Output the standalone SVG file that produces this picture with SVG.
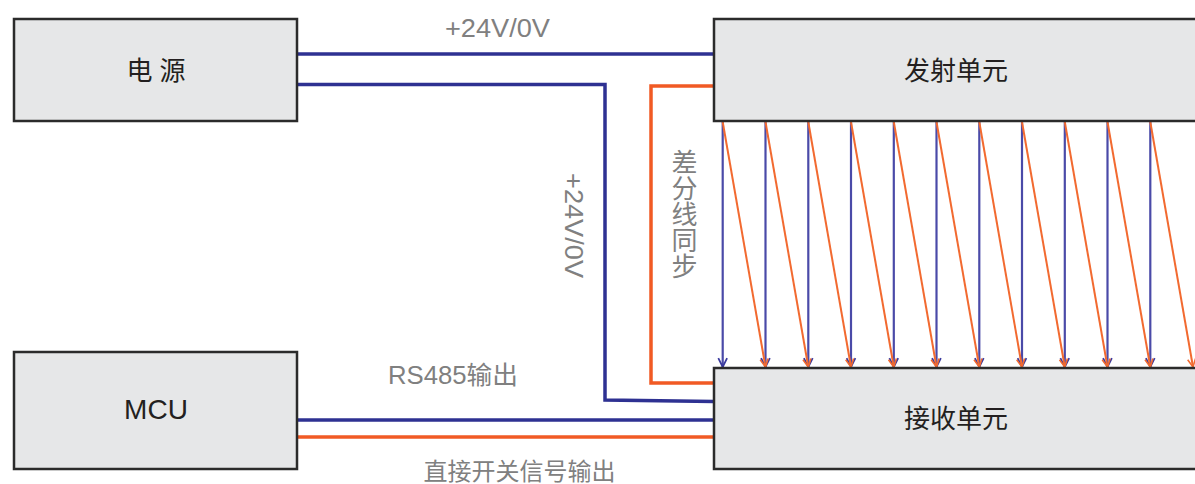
<svg xmlns="http://www.w3.org/2000/svg" width="1195" height="484" viewBox="0 0 1195 484">
<style>
.box{fill:#e6e7e8;stroke:#2b2b2b;stroke-width:2.5}
.nt{font-family:"Liberation Sans","Noto Sans CJK SC",sans-serif;font-size:26px;fill:#231f20;text-anchor:middle}
.lb{font-family:"Liberation Sans","Noto Sans CJK SC",sans-serif;font-size:25px;fill:#808080;text-anchor:middle}
.vt{font-family:"Noto Sans CJK SC",sans-serif;font-size:26px;fill:#808080;text-anchor:middle;writing-mode:vertical-rl;text-orientation:upright}
.bl{fill:none;stroke:#2e3192;stroke-width:3.5}
.or{fill:none;stroke:#f15a24;stroke-width:3.5}
.ab{fill:none;stroke:#4a4aa8;stroke-width:2.2;marker-end:url(#mb)}
.ao{fill:none;stroke:#f26a30;stroke-width:2;marker-end:url(#mo)}
</style>
<defs>
<marker id="mb" viewBox="0 0 10 10" refX="9" refY="5" markerWidth="5" markerHeight="5" orient="auto" markerUnits="strokeWidth">
<path d="M1,1 L9,5 L1,9" fill="none" stroke="#3a3a9e" stroke-width="1.6"/>
</marker>
<marker id="mo" viewBox="0 0 10 10" refX="9" refY="5" markerWidth="5" markerHeight="5" orient="auto" markerUnits="strokeWidth">
<path d="M1,1 L9,5 L1,9" fill="none" stroke="#f26a30" stroke-width="1.6"/>
</marker>
</defs>
<g id="connectors">
<path class="bl" d="M297,54 H714"/>
<path class="bl" d="M297,84.5 H605 V400 L714,401.5"/>
<path class="or" d="M714,86 H651 V383 H714"/>
<path class="bl" d="M297,420 H714"/>
<path class="or" d="M297,437 H714"/>
<g id="beams">
<path class="ab" d="M722.7,122 V367"/>
<path class="ab" d="M765.5,122 V367"/>
<path class="ab" d="M808.3,122 V367"/>
<path class="ab" d="M851,122 V367"/>
<path class="ab" d="M893.8,122 V367"/>
<path class="ab" d="M936.5,122 V367"/>
<path class="ab" d="M979.3,122 V367"/>
<path class="ab" d="M1022,122 V367"/>
<path class="ab" d="M1064.8,122 V367"/>
<path class="ab" d="M1107.5,122 V367"/>
<path class="ab" d="M1150.3,122 V367"/>
<path class="ao" d="M722.7,122 L765.5,367"/>
<path class="ao" d="M765.5,122 L808.3,367"/>
<path class="ao" d="M808.3,122 L851,367"/>
<path class="ao" d="M851,122 L893.8,367"/>
<path class="ao" d="M893.8,122 L936.5,367"/>
<path class="ao" d="M936.5,122 L979.3,367"/>
<path class="ao" d="M979.3,122 L1022,367"/>
<path class="ao" d="M1022,122 L1064.8,367"/>
<path class="ao" d="M1064.8,122 L1107.5,367"/>
<path class="ao" d="M1107.5,122 L1150.3,367"/>
<path class="ao" d="M1150.3,122 L1193,367"/>
</g>
</g>
<g id="labels">
<text class="lb" x="497.5" y="37" textLength="105" lengthAdjust="spacingAndGlyphs">+24V/0V</text>
<text class="lb" transform="translate(565,225.5) rotate(90)" x="0" y="0" textLength="105" lengthAdjust="spacingAndGlyphs">+24V/0V</text>
<text class="vt" x="684.5" y="214">差分线同步</text>
<text class="lb" x="453" y="384" textLength="130" lengthAdjust="spacingAndGlyphs">RS485输出</text>
<text class="lb" style="font-size:24px" x="519.5" y="480">直接开关信号输出</text>
</g>
<g id="power">
<rect class="box" x="14" y="19" width="283" height="102"/>
<text class="nt" x="156" y="80">电 源</text>
</g>
<g id="mcu">
<rect class="box" x="14" y="352" width="283" height="117"/>
<text class="nt" style="font-size:28px" x="156" y="419">MCU</text>
</g>
<g id="transmitter">
<rect class="box" x="714" y="19" width="490" height="102"/>
<text class="nt" x="956" y="80">发射单元</text>
</g>
<g id="receiver">
<rect class="box" x="714" y="368" width="490" height="101"/>
<text class="nt" x="956" y="428">接收单元</text>
</g>
</svg>
